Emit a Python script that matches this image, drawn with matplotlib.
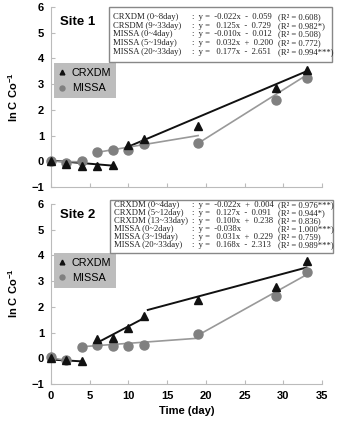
import numpy as np
import matplotlib
matplotlib.use("Agg")
import matplotlib.pyplot as plt
from matplotlib.patches import Rectangle

plt.rcParams['font.family'] = ['Liberation Sans', 'DejaVu Sans']
plt.rcParams['mathtext.default'] = 'regular'

days = [0, 2, 4, 6, 8, 10, 12, 19, 29, 33]

# Site 1
s1_crxdm = [0.0, -0.1, -0.2, -0.2, -0.15, 0.62, 0.85, 1.38, 2.85, 3.55]
s1_missa = [0.0, -0.05, 0.0, 0.35, 0.45, 0.45, 0.68, 0.73, 2.38, 3.25]
# fitted segments
s1_crxdm_fit = [([0, 8], [0.03, -0.17]), ([10, 33], [0.57, 3.5])]
s1_missa_fit = [([0, 4], [0.0, -0.02]), ([6, 19], [0.35, 1.0]), ([19, 33], [0.7, 3.35])]

# Site 2
s2_crxdm = [0.0, -0.05, -0.1, 0.74, 0.78, 1.17, 1.65, 2.27, 2.77, 3.77]
s2_missa = [0.06, -0.06, 0.43, 0.52, 0.48, 0.48, 0.52, 0.94, 2.43, 3.34]
s2_crxdm_fit = [([0, 4], [-0.05, -0.12]), ([6, 12], [0.61, 1.56]), ([12.5, 33], [1.88, 3.53])]
s2_missa_fit = [([0, 2], [0.02, -0.08]), ([4, 19], [0.45, 0.78]), ([19, 33], [0.9, 3.25])]

s1_names = ["CRXDM (0~8day)", "CRSDM (9~33day)", "MISSA (0~4day)",
            "MISSA (5~19day)", "MISSA (20~33day)"]
s1_fits = [":  y =  -0.022x  -  0.059", ":  y =   0.125x  -  0.729",
           ":  y =  -0.010x  -  0.012", ":  y =   0.032x  +  0.200",
           ":  y =   0.177x  -  2.651"]
s1_r2 = ["(R² = 0.608)", "(R² = 0.982*)", "(R² = 0.508)",
         "(R² = 0.772)", "(R² = 0.994***)"]

s2_names = ["CRXDM (0~4day)", "CRXDM (5~12day)", "CRXDM (13~33day)",
            "MISSA (0~2day)", "MISSA (3~19day)", "MISSA (20~33day)"]
s2_fits = [":  y =  -0.022x  +  0.004", ":  y =   0.127x  -  0.091",
           ":  y =   0.100x  +  0.238", ":  y =  -0.038x",
           ":  y =   0.031x  +  0.229", ":  y =   0.168x  -  2.313"]
s2_r2 = ["(R² = 0.976***)", "(R² = 0.944*)", "(R² = 0.836)",
         "(R² = 1.000***)", "(R² = 0.759)", "(R² = 0.989***)"]

W, H = 343, 426
fig = plt.figure(figsize=(W / 100, H / 100), dpi=100)

axis_col = '#bbbbbb'
tri_col = '#111111'
cir_col = '#808080'


def px(x, y):
    return x / W, 1 - y / H


def panel(rect, crx, mis, crx_fit, mis_fit, site, cols, box, first_y, step,
          legtop, ylab_y, show_x):
    ax = fig.add_axes(rect)
    for xs, ys in crx_fit:
        ax.plot(xs, ys, color='#111111', lw=1.4, zorder=2)
    for xs, ys in mis_fit:
        ax.plot(xs, ys, color='#999999', lw=1.2, zorder=2)
    ax.plot(days, mis, 'o', color=cir_col, ms=6.5, mec=cir_col, zorder=3,
            label='MISSA', clip_on=False)
    ax.plot(days, crx, '^', color=tri_col, ms=6.2, zorder=4, label='CRXDM', clip_on=False)
    ax.set_xlim(0, 35)
    ax.set_ylim(-1, 6)
    ax.set_xticks(range(0, 36, 5))
    ax.set_yticks(range(-1, 7))
    for s in ['top', 'right']:
        ax.spines[s].set_visible(False)
    for s in ['left', 'bottom']:
        ax.spines[s].set_color(axis_col)
        ax.spines[s].set_linewidth(0.8)
    ax.tick_params(direction='in', color=axis_col, length=3, labelsize=8, pad=5)
    for lab in ax.get_yticklabels() + ax.get_xticklabels():
        lab.set_fontweight('bold')
    if not show_x:
        ax.set_xticklabels([])
    else:
        ax.set_xlabel('Time (day)', fontsize=8, fontweight='bold', labelpad=4)

    h, l = ax.get_legend_handles_labels()
    ax.legend(h[::-1], l[::-1], loc='upper left', bbox_to_anchor=px(54, legtop),
              bbox_transform=fig.transFigure, frameon=True, fancybox=False,
              facecolor='#bdbdbd', edgecolor='none', framealpha=1,
              fontsize=7.8, markerscale=0.55, handlelength=0.5, handletextpad=0.7,
              borderpad=0.45, labelspacing=0.5, borderaxespad=0)

    fig.text(*px(60, box[1] + 15), site, fontsize=9.5, fontweight='bold', va='center')
    fig.text(*px(13, ylab_y), 'ln C Co$^{-1}$', rotation=90, fontsize=8,
             fontweight='bold', ha='center', va='center')

    x0, y0, x1, y1 = box
    fig.patches.append(Rectangle(px(x0, y1), (x1 - x0) / W, (y1 - y0) / H,
                                 transform=fig.transFigure, fill=True, facecolor='white',
                                 edgecolor='#888888', lw=1, zorder=5))
    for xx, lines in zip([x0 + 4, 192, 278], cols):
        for i, t in enumerate(lines):
            fig.text(*px(xx, first_y + i * step), t, fontsize=6.2,
                     family='Liberation Serif', va='center', zorder=6, color='#222222')
    return ax


panel([51 / W, 1 - 187 / H, 271 / W, 180 / H], s1_crxdm, s1_missa, s1_crxdm_fit,
      s1_missa_fit, 'Site 1', [s1_names, s1_fits, s1_r2], (109, 7, 332, 62), 17, 8.75,
      63, 97, False)
panel([51 / W, 1 - 384 / H, 271 / W, 180 / H], s2_crxdm, s2_missa, s2_crxdm_fit,
      s2_missa_fit, 'Site 2', [s2_names, s2_fits, s2_r2], (110, 200, 333, 253), 205, 8.0,
      253, 293, True)

fig.savefig('out.png', dpi=100)
